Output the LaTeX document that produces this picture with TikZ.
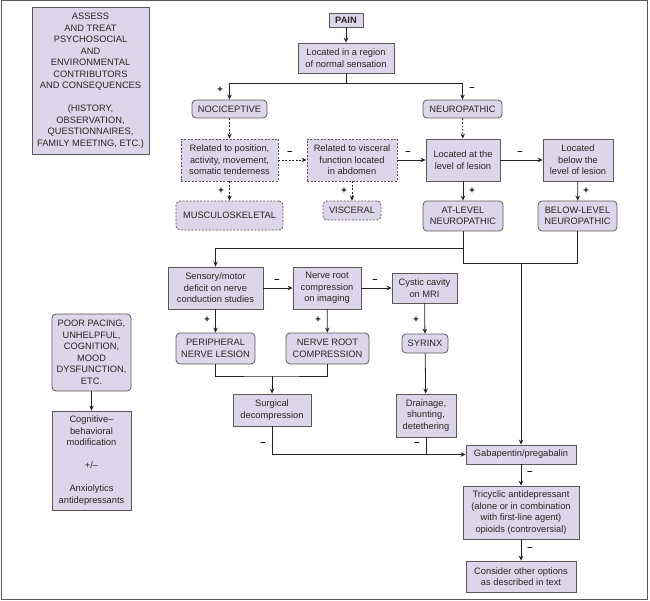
\documentclass[tikz,border=0pt]{standalone}
\usepackage{fontspec}
\setmainfont{Liberation Sans}
\usepackage{xcolor}
\usepackage{tikz}
\usetikzlibrary{arrows.meta, positioning, calc}
\definecolor{boxfill}{RGB}{221, 214, 234}
\definecolor{edgegray}{RGB}{90, 90, 90}
\definecolor{linedark}{RGB}{35, 35, 35}
\newcommand{\boxfont}{\fontsize{9.3}{11.5}\selectfont}

\begin{document}
\begin{tikzpicture}[
    x=1pt, y=-1pt,
    box/.style={rectangle, draw=edgegray, fill=boxfill, line width=0.8pt, align=center, inner sep=1pt, font=\boxfont, text=black!85},
    rbox/.style={box, rounded corners=4pt},
    dbox/.style={box, dash pattern=on 2pt off 1.5pt},
    drbox/.style={rbox, dash pattern=on 2pt off 1.5pt},
    arr/.style={-{Stealth[length=5pt, width=4.5pt]}, line width=0.8pt, linedark},
    darr/.style={arr, dash pattern=on 2pt off 1.5pt},
    link/.style={line width=0.8pt, linedark},
    sign/.style={font=\boxfont\bfseries, inner sep=0pt}
]
    \useasboundingbox (0,0) rectangle (650,601);
    \draw[edgegray, line width=1pt] (1,1) rectangle (647,599);

    % left column
    \node[box, minimum width=117, minimum height=147] (assess) at (90.5,80.5)
        {ASSESS\\AND TREAT\\PSYCHOSOCIAL\\AND\\ENVIRONMENTAL\\CONTRIBUTORS\\AND CONSEQUENCES\\[11.5pt](HISTORY,\\OBSERVATION,\\QUESTIONNAIRES,\\FAMILY MEETING, ETC.)};
    \node[rbox, minimum width=79, minimum height=77] (poor) at (91.5,352.5)
        {POOR PACING,\\UNHELPFUL,\\COGNITION,\\MOOD\\DYSFUNCTION,\\ETC.};
    \node[box, minimum width=79, minimum height=99] (cogn) at (91.5,460.5)
        {Cognitive–\\behavioral\\modification\\[11.5pt]+/–\\[11.5pt]Anxiolytics\\antidepressants};
    \draw[arr] (poor) -- (cogn);

    % top
    \node[box, minimum width=34, minimum height=14, font=\boxfont\bfseries] (pain) at (346,20) {PAIN};
    \node[box, minimum width=96, minimum height=30] (region) at (346,58) {Located in a region\\of normal sensation};
    \node[rbox, minimum width=75, minimum height=18] (noci) at (229.5,109) {NOCICEPTIVE};
    \node[rbox, minimum width=79, minimum height=18] (neuro) at (462.5,109) {NEUROPATHIC};

    \coordinate (split1) at (346,83);
    \draw[arr] (pain) -- (region);
    \draw[link] (region) -- (split1);
    \draw[arr] (split1) -| (noci);
    \draw[arr] (split1) -| (neuro);
    \node[sign] (s1) at (220,90) {+};
    \node[sign] (s2) at (472,89) {–};

    % second row
    \node[dbox, minimum width=97, minimum height=42] (posit) at (229.5,160) {Related to position,\\activity, movement,\\somatic tenderness};
    \node[dbox, minimum width=90, minimum height=42] (visc) at (352,160) {Related to visceral\\function located\\in abdomen};
    \node[box, minimum width=74, minimum height=42] (atlev) at (463,160) {Located at the\\level of lesion};
    \node[box, minimum width=70, minimum height=42] (below) at (578,160) {Located\\below the\\level of lesion};

    \draw[darr] (noci) -- (posit);
    \draw[darr] (neuro) -- (atlev);
    \draw[darr] (posit) -- (visc);
    \draw[arr] (visc) -- (atlev);
    \draw[arr] (atlev) -- (below);
    \node[sign] (s3) at (290,153) {–};
    \node[sign] (s4) at (408,153) {–};
    \node[sign] (s5) at (520,153) {–};

    % third row
    \node[drbox, minimum width=107, minimum height=29] (musc) at (229.5,215.5) {MUSCULOSKELETAL};
    \node[drbox, minimum width=58, minimum height=19] (viscl) at (352,210.5) {VISCERAL};
    \node[rbox, minimum width=80, minimum height=30] (atneuro) at (463,216) {AT-LEVEL\\NEUROPATHIC};
    \node[rbox, minimum width=79, minimum height=30] (belneuro) at (577.5,216) {BELOW-LEVEL\\NEUROPATHIC};

    \draw[darr] (posit) -- (musc);
    \draw[darr] (visc) -- (viscl);
    \draw[arr] (atlev) -- (atneuro);
    \draw[arr] (below) -- (belneuro);
    \node[sign] (s6) at (221,191) {+};
    \node[sign] (s7) at (344,191) {+};
    \node[sign] (s8) at (472,191) {+};
    \node[sign] (s9) at (586,191) {+};

    % join of the neuropathic branches
    \coordinate (j1) at (463,248);
    \coordinate (j2) at (463,263);
    \coordinate (j3) at (577.5,263);
    \coordinate (j4) at (521,263);

    % fourth row
    \node[box, minimum width=95, minimum height=42] (sensory) at (215.5,288) {Sensory/motor\\deficit on nerve\\conduction studies};
    \node[box, minimum width=68, minimum height=42] (nroot) at (327,288) {Nerve root\\compression\\on imaging};
    \node[box, minimum width=65, minimum height=30] (cystic) at (424.5,288) {Cystic cavity\\on MRI};

    \draw[arr] (atneuro) -- (j1) -| (sensory);
    \draw[link] (j1) -- (j2) -- (j3) -- (belneuro);
    \draw[arr] (sensory) -- (nroot);
    \draw[arr] (nroot) -- (cystic);
    \node[sign] (s10) at (277,281) {–};
    \node[sign] (s11) at (375,281) {–};

    % fifth row
    \node[rbox, minimum width=79, minimum height=31] (periph) at (215.5,348.5) {PERIPHERAL\\NERVE LESION};
    \node[rbox, minimum width=83, minimum height=31] (nrcomp) at (327.5,348.5) {NERVE ROOT\\COMPRESSION};
    \node[rbox, minimum width=46, minimum height=19] (syrinx) at (425,343.5) {SYRINX};

    \draw[arr] (sensory) -- (periph);
    \draw[arr] (nroot) -- (nrcomp);
    \draw[arr] (cystic) -- (syrinx);
    \node[sign] (s12) at (207,320) {+};
    \node[sign] (s13) at (318,320) {+};
    \node[sign] (s14) at (416,320) {+};

    % treatments
    \node[box, minimum width=78, minimum height=32] (surg) at (272,410) {Surgical\\decompression};
    \node[box, minimum width=60, minimum height=43] (drain) at (426,415.5) {Drainage,\\shunting,\\detethering};
    \node[box, minimum width=110, minimum height=19] (gaba) at (521,454.5) {Gabapentin/pregabalin};
    \node[box, minimum width=116, minimum height=53] (tricy) at (521,512.5) {Tricyclic antidepressant\\(alone or in combination\\with first-line agent)\\opioids (controversial)};
    \node[box, minimum width=110, minimum height=31] (consid) at (521,576.5) {Consider other options\\as described in text};

    \coordinate (j5) at (272,376);
    \coordinate (j6) at (272,454.5);
    \draw[link] (periph) |- (j5) -| (nrcomp);
    \draw[arr] (j5) -- (surg);
    \draw[arr] (syrinx) -- (drain);
    \draw[arr] (surg) -- (j6) -- (gaba);
    \draw[link] (drain) -- (drain |- gaba);
    \draw[arr] (j4) -- (gaba);
    \draw[arr] (gaba) -- (tricy);
    \draw[arr] (tricy) -- (consid);
    \node[sign] (s15) at (263,444) {–};
    \node[sign] (s16) at (417,444) {–};
    \node[sign] (s17) at (530,473) {–};
    \node[sign] (s18) at (530,549) {–};
\end{tikzpicture}
\end{document}
